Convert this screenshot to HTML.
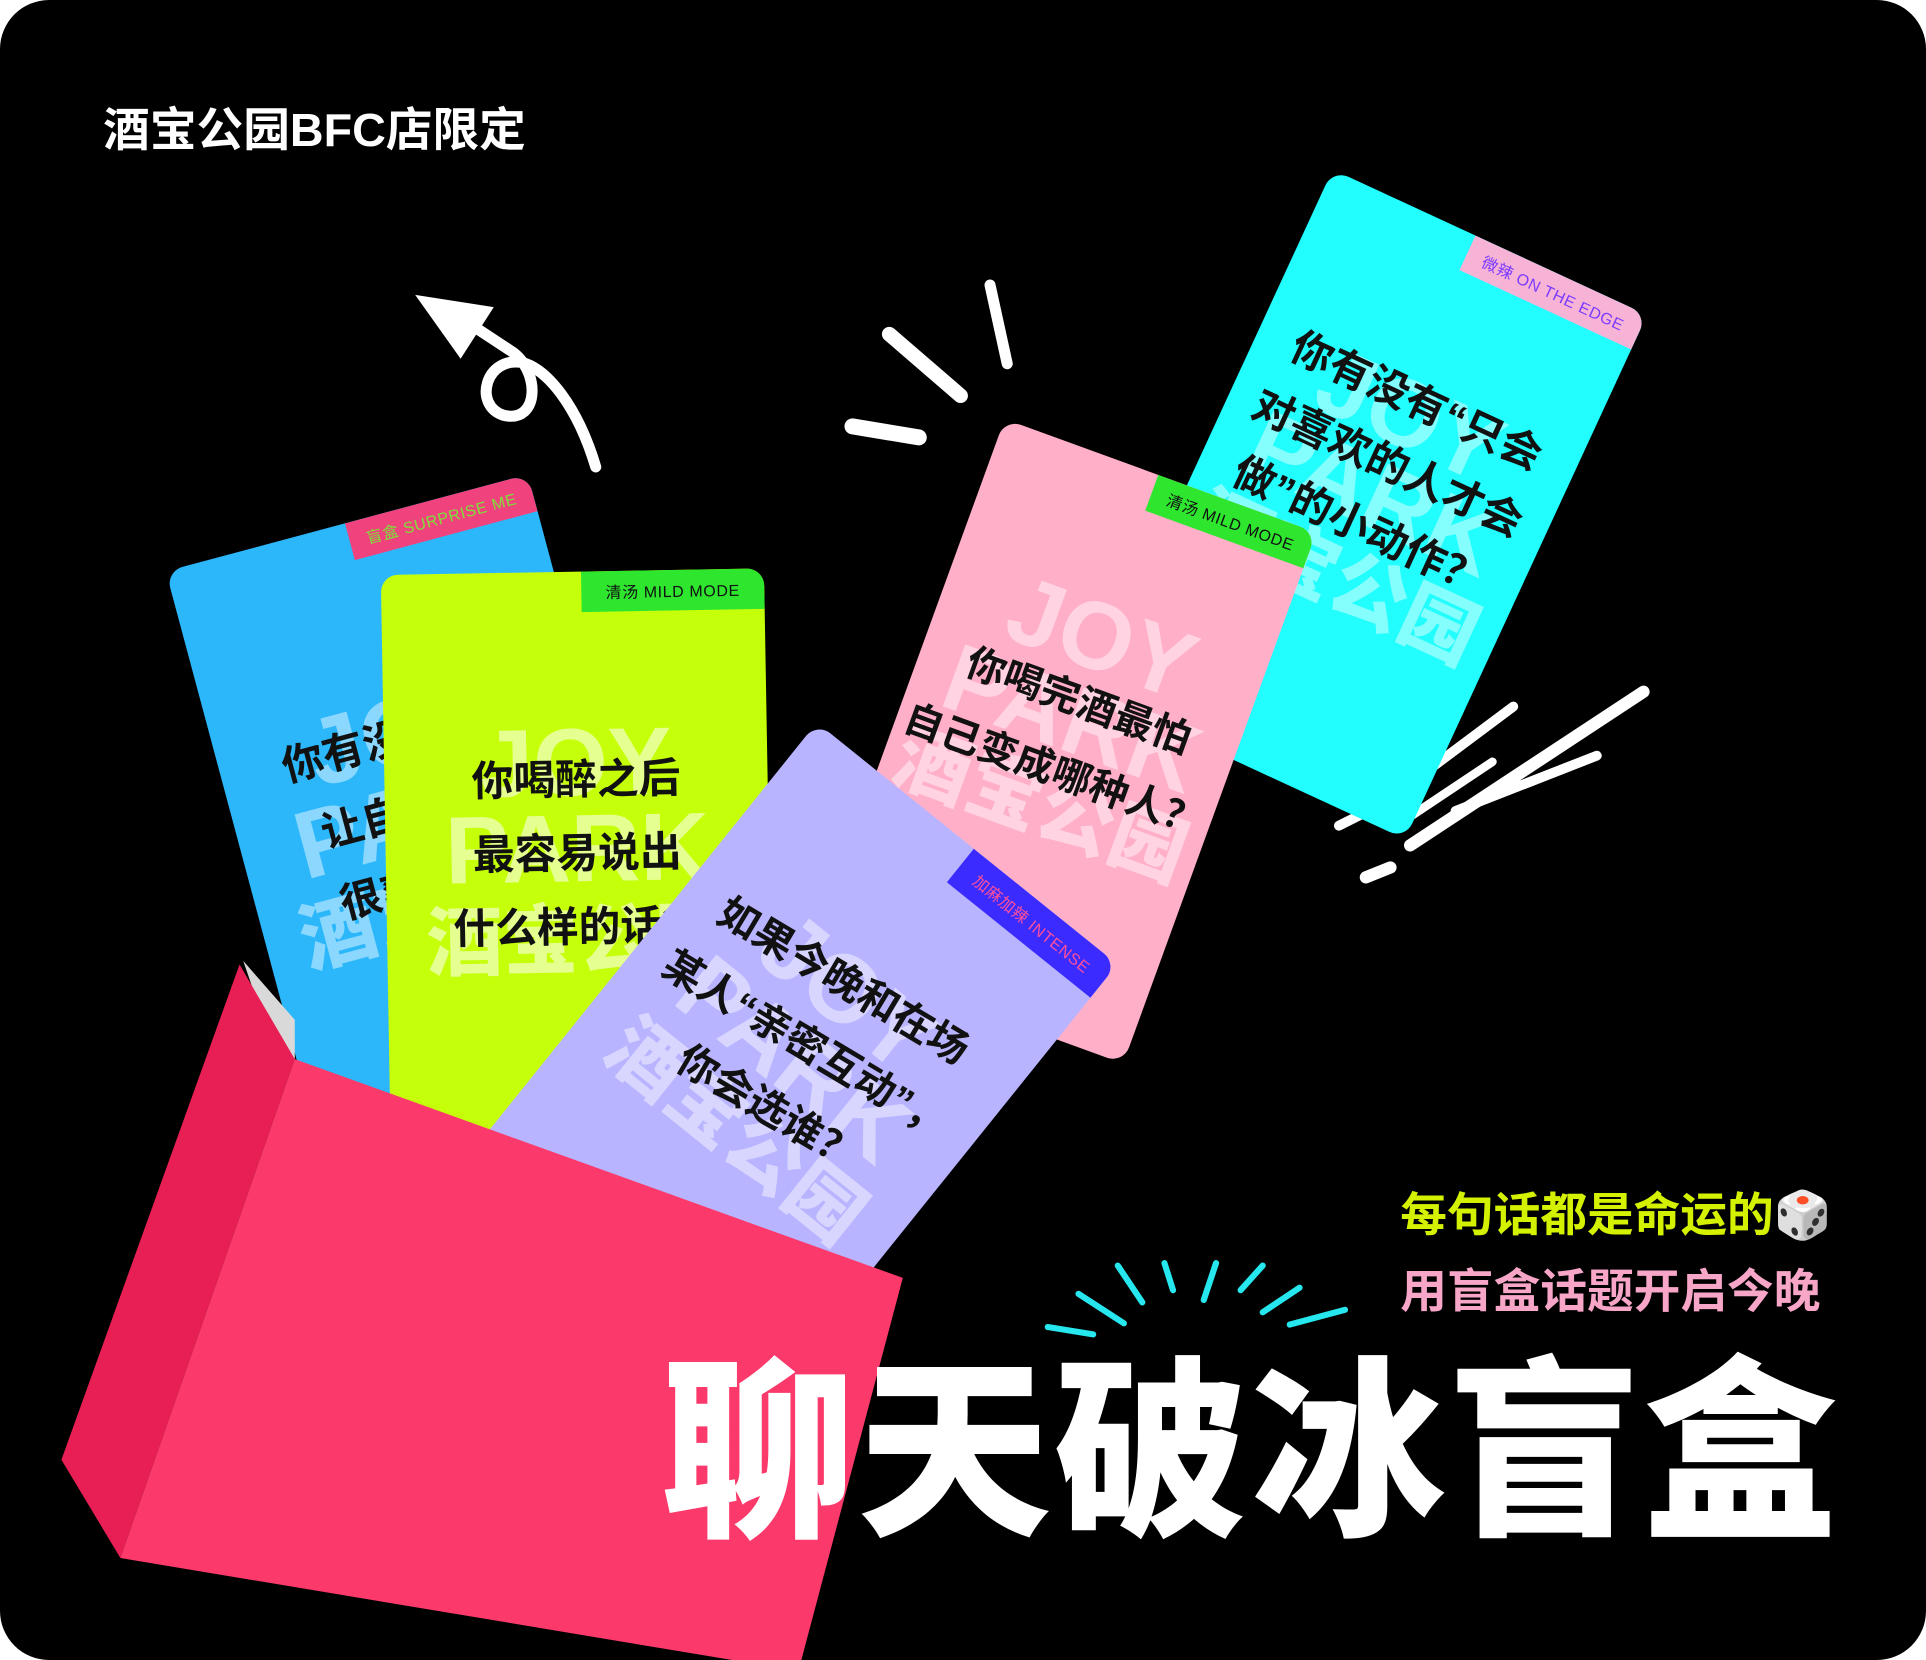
<!DOCTYPE html>
<html><head><meta charset="utf-8">
<style>
html,body{margin:0;padding:0;background:#fff;width:1926px;height:1660px;overflow:hidden}
#stage{position:absolute;left:0;top:0;width:1568px;height:1351px;transform:scale(1.22832,1.22872);transform-origin:0 0;font-family:"Liberation Sans","Noto Sans CJK SC",sans-serif}
#bg{position:absolute;left:0;top:0;width:1568px;height:1351px;background:#000;border-radius:40px;overflow:hidden}
.card{position:absolute;border-radius:14px;transform-origin:0 0;overflow:hidden}
.tag{position:absolute;top:0;right:0;font-size:13px;padding:6px 14px;letter-spacing:0.5px;white-space:nowrap}
.q{position:absolute;left:0;width:100%;text-align:center;font-weight:bold;font-size:34px;line-height:60px;color:#111;white-space:nowrap}
.wm{position:absolute;left:0;width:100%;text-align:center;font-weight:900;color:rgba(255,255,255,0.45);line-height:0.9;font-size:78px;white-space:nowrap}
.abs{position:absolute;white-space:nowrap}
</style></head><body>
<div id="stage">
<div id="bg">

<svg class="abs" style="left:0;top:0" width="1568" height="1351">
 <g stroke="#fff" stroke-linecap="round" fill="none">
  <path d="M485 380 C470 330 445 300 425 295 C395 290 385 330 410 338 C440 345 440 300 415 285 L380 262" stroke-width="9"/>
  <line x1="724" y1="272" x2="782" y2="322" stroke-width="12"/>
  <line x1="806" y1="232" x2="820" y2="296" stroke-width="9"/>
  <line x1="694" y1="347" x2="748" y2="356" stroke-width="13"/>
  <line x1="1125" y1="655" x2="1232" y2="575" stroke-width="8"/>
  <line x1="1148" y1="688" x2="1338" y2="563" stroke-width="10"/>
  <line x1="1140" y1="670" x2="1215" y2="620" stroke-width="7"/>
  <line x1="1185" y1="660" x2="1300" y2="615" stroke-width="8"/>
  <line x1="1090" y1="672" x2="1110" y2="662" stroke-width="8"/>
  <line x1="1112" y1="714" x2="1132" y2="706" stroke-width="10"/>
 </g>
 <polygon points="338,240 402,250 375,292" fill="#fff"/>
 <g stroke="#26e6ee" stroke-linecap="round" stroke-width="5">
  <line x1="853" y1="1080" x2="890" y2="1086"/>
  <line x1="878" y1="1053" x2="915" y2="1077"/>
  <line x1="910" y1="1030" x2="930" y2="1060"/>
  <line x1="948" y1="1028" x2="955" y2="1050"/>
  <line x1="990" y1="1028" x2="980" y2="1058"/>
  <line x1="1028" y1="1030" x2="1010" y2="1050"/>
  <line x1="1058" y1="1048" x2="1028" y2="1068"/>
  <line x1="1095" y1="1066" x2="1050" y2="1078"/>
 </g>
</svg>

<div class="abs" style="left:84px;top:88px;font-size:38px;font-weight:bold;color:#fff;line-height:1">酒宝公园BFC店限定</div>

<!-- cyan card -->
<div class="card" style="left:1085px;top:138px;width:282px;height:470px;background:#22fefe;transform:rotate(24.8deg)">
 <div class="tag" style="background:#f7b3d6;color:#7b3bff">微辣 ON THE EDGE</div>
 <div class="wm" style="top:120px">JOY<br>PARK<br><span style="font-size:62px">酒宝公园</span></div>
 <div class="q" style="top:115px;line-height:56px">你有没有“只会<br>对喜欢的人才会<br>做”的小动作？</div>
</div>

<!-- pink card -->
<div class="card" style="left:818px;top:341px;width:270px;height:460px;background:#ffafc8;transform:rotate(20deg)">
 <div class="tag" style="background:#2ee62e;color:#111">清汤 MILD MODE</div>
 <div class="wm" style="top:105px">JOY<br>PARK<br><span style="font-size:62px">酒宝公园</span></div>
 <div class="q" style="top:165px;font-size:32px">你喝完酒最怕<br>自己变成哪种人？</div>
</div>

<!-- blue card -->
<div class="card" style="left:135px;top:465px;width:305px;height:560px;background:#2cb7fb;transform:rotate(-15deg)">
 <div class="tag" style="background:#f0427c;color:#7ee03a">盲盒 SURPRISE ME</div>
 <div class="wm" style="top:140px">JOY<br>PARK<br><span style="font-size:62px">酒宝公园</span></div>
 <div class="q" style="top:150px">你有没有做过<br>让自己后悔<br>很爽的事？</div>
</div>

<!-- lime card -->
<div class="card" style="left:310px;top:468px;width:312px;height:580px;background:#c6ff0a;transform:rotate(-1deg)">
 <div class="tag" style="background:#2ee62e;color:#111;padding:7px 20px">清汤 MILD MODE</div>
 <div class="wm" style="top:120px;color:rgba(255,255,255,0.55)">JOY<br>PARK<br><span style="font-size:62px">酒宝公园</span></div>
 <div class="q" style="top:140px">你喝醉之后<br>最容易说出<br>什么样的话？</div>
</div>

<!-- lavender card -->
<div class="card" style="left:665px;top:588px;width:314px;height:560px;background:#b8b4ff;transform:rotate(38.8deg)">
 <div class="tag" style="background:#3b2bff;color:#ff4f9a;padding:8px 16px">加麻加辣 INTENSE</div>
 <div class="wm" style="top:120px">JOY<br>PARK<br><span style="font-size:62px">酒宝公园</span></div>
 <div class="q" style="top:120px;font-size:33px;transform:rotate(-8deg)">如果今晚和在场<br>某人“亲密互动”，<br>你会选谁？</div>
</div>

<!-- box -->
<svg class="abs" style="left:0;top:0" width="1568" height="1351">
 <polygon points="198,782 240,830 240,862 218,840" fill="#d9d9d9"/>
 <polygon points="195,785 240,862 98,1268 50,1188" fill="#e81f55"/>
 <polygon points="240,862 735,1040 650,1360 98,1268" fill="#fb3a6b"/>
</svg>

<div class="abs" style="left:1140px;top:958px;font-size:38px;font-weight:bold;color:#d4f200">每句话都是命运的🎲</div>
<div class="abs" style="left:1140px;top:1020px;font-size:38px;font-weight:bold;color:#f7a6c8">用盲盒话题开启今晚</div>
<div class="abs" style="left:538px;top:1098px;font-size:158px;font-weight:900;color:#fff;letter-spacing:2px;line-height:1.1">聊天破冰盲盒</div>

</div>
</div>
</body></html>
